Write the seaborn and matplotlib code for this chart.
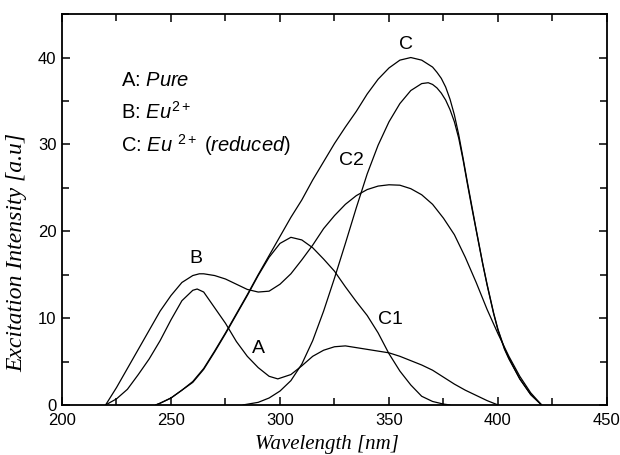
import numpy as np
import pandas as pd
import seaborn as sns
import matplotlib.pyplot as plt
from matplotlib.ticker import MultipleLocator

# curves (wavelength nm, intensity a.u.)
a_x = [220, 225, 230, 235, 240, 245, 250, 255, 260, 262, 265, 270, 275, 280, 285, 290, 295, 299,
       305, 310, 315, 320, 325, 330, 335, 340, 345, 350, 355, 360, 365, 370, 375, 380, 385, 390, 395, 400]
a_y = [0, 0.7, 1.8, 3.5, 5.3, 7.4, 9.8, 12.0, 13.2, 13.35, 13.0, 11.2, 9.4, 7.3, 5.6, 4.3, 3.3, 3.0,
       3.5, 4.5, 5.6, 6.3, 6.7, 6.8, 6.6, 6.4, 6.2, 6.0, 5.6, 5.1, 4.6, 4.0, 3.2, 2.4, 1.7, 1.1, 0.5, 0]

b_x = [220, 225, 230, 235, 240, 245, 250, 255, 260, 263, 265, 270, 275, 280, 285, 290, 295, 300,
       305, 310, 315, 320, 325, 330, 335, 340, 345, 350, 355, 360, 365, 370, 375, 380, 385, 390,
       395, 400, 405, 410, 415, 420]
b_y = [0, 2.0, 4.2, 6.4, 8.6, 10.8, 12.6, 14.1, 14.9, 15.1, 15.1, 14.9, 14.5, 13.9, 13.3, 13.0, 13.1, 13.9,
       15.1, 16.7, 18.4, 20.3, 21.8, 23.1, 24.1, 24.8, 25.2, 25.35, 25.3, 24.9, 24.2, 23.1, 21.5, 19.6, 17.0, 14.1,
       11.0, 8.2, 5.6, 3.3, 1.4, 0]

c_x = [243, 245, 250, 255, 260, 265, 270, 275, 280, 285, 290, 295, 300, 305, 310, 315, 320, 325, 330,
       335, 340, 345, 350, 355, 360, 365, 370, 372, 374, 376, 378, 380, 382, 384, 386, 388, 390, 393,
       395, 398, 400, 403, 405, 410, 415, 420]
c_y = [0, 0.2, 0.8, 1.7, 2.7, 4.2, 6.2, 8.3, 10.5, 12.7, 15.0, 17.2, 19.4, 21.6, 23.6, 25.9, 28.0, 30.1, 32.0,
       33.8, 35.8, 37.5, 38.8, 39.7, 40.0, 39.7, 38.9, 38.3, 37.6, 36.6, 35.2, 33.4, 31.1, 28.4, 25.6, 22.9, 20.2, 16.3,
       13.9, 10.6, 8.7, 6.5, 5.4, 3.0, 1.2, 0]

c1_x = [243, 245, 250, 255, 260, 265, 270, 275, 280, 285, 290, 295, 300, 305, 310, 315, 320, 325, 330,
        335, 340, 345, 350, 355, 360, 365, 370, 375, 378]
c1_y = [0, 0.2, 0.8, 1.7, 2.6, 4.1, 6.1, 8.2, 10.4, 12.6, 14.9, 17.0, 18.6, 19.3, 19.0, 18.1, 16.8, 15.4, 13.6,
        11.9, 10.3, 8.3, 5.9, 3.9, 2.3, 1.0, 0.4, 0.1, 0]

c2_x = [283, 290, 295, 300, 305, 310, 315, 320, 325, 330, 335, 340, 345, 350, 355, 360, 365, 368, 370,
        372, 374, 376, 378, 380, 382, 384, 386, 388, 390, 393, 395, 398, 400, 403, 405, 410, 415, 420]
c2_y = [0, 0.3, 0.8, 1.6, 2.8, 4.7, 7.4, 10.8, 14.6, 18.6, 22.7, 26.6, 29.9, 32.6, 34.7, 36.2, 37.0, 37.1, 36.9,
        36.5, 35.9, 35.1, 34.0, 32.6, 30.7, 28.2, 25.4, 22.7, 20.1, 16.2, 13.8, 10.5, 8.6, 6.4, 5.3, 3.0, 1.2, 0]

curves = {"A": (a_x, a_y), "B": (b_x, b_y), "C": (c_x, c_y), "C1": (c1_x, c1_y), "C2": (c2_x, c2_y)}
df = pd.concat([pd.DataFrame({"wl": x, "I": y, "curve": k}) for k, (x, y) in curves.items()],
               ignore_index=True)

sns.set_style("ticks")
plt.rcParams["font.family"] = ["Liberation Sans", "DejaVu Sans"]
plt.rcParams["mathtext.fontset"] = "custom"
plt.rcParams["mathtext.rm"] = "Liberation Sans"
plt.rcParams["mathtext.it"] = "Liberation Sans:italic"
for k in ["text.color", "axes.labelcolor", "xtick.color", "ytick.color", "axes.edgecolor"]:
    plt.rcParams[k] = "black"

fig = plt.figure(figsize=(6.2, 4.55), dpi=100)
ax = fig.add_axes([0.1, 0.11, 0.879, 0.859])

sns.lineplot(data=df, x="wl", y="I", units="curve", estimator=None, color="black",
             lw=0.9, ax=ax, legend=False)

ax.set_xlim(200, 450)
ax.set_ylim(0, 45)
ax.xaxis.set_major_locator(MultipleLocator(50))
ax.xaxis.set_minor_locator(MultipleLocator(25))
ax.yaxis.set_major_locator(MultipleLocator(10))
ax.yaxis.set_minor_locator(MultipleLocator(5))
ax.tick_params(which="both", direction="in", top=True, right=True, width=1.1, labelsize=12)
ax.tick_params(axis="x", pad=6)
ax.tick_params(axis="y", pad=4)
ax.tick_params(which="major", length=6)
ax.tick_params(which="minor", length=5)
for s in ax.spines.values():
    s.set_linewidth(1.3)

ax.set_xlabel("Wavelength [nm]", family="Liberation Serif", style="italic", fontsize=15)
ax.set_ylabel("Excitation Intensity [a.u]", family="Liberation Serif", style="italic", fontsize=17)
ax.xaxis.set_label_coords(0.487, -0.078)
ax.yaxis.set_label_coords(-0.064, 0.39)

# curve labels
lab = dict(fontsize=14, ha="center", va="center")
ax.text(358, 41.5, "C", **lab)
ax.text(333, 28.1, "C2", **lab)
ax.text(261.5, 16.9, "B", **lab)
ax.text(290, 6.5, "A", **lab)
ax.text(350.5, 9.8, "C1", **lab)

# legend text
ax.text(227, 37.3, r"A: $\mathit{Pure}$", fontsize=14.5, va="center")
ax.text(227, 33.8, r"B: $\mathit{Eu}^{\mathrm{2+}}$", fontsize=14.5, va="center")
ax.text(227, 29.9, r"C: $\mathit{Eu}$ $^{\mathrm{2+}}$ $\mathit{(reduced)}$", fontsize=14.5, va="center")

fig.savefig("out.png", dpi=100)
